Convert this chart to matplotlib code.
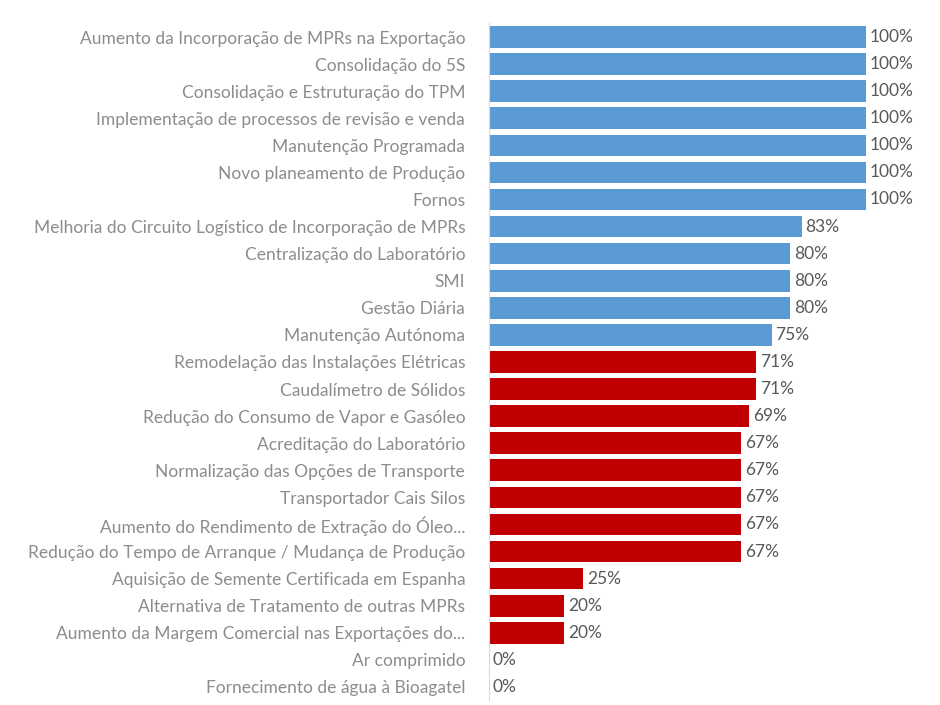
import matplotlib
matplotlib.use('Agg')
from matplotlib import pyplot as plt
import numpy as np

plt.rcParams['font.family'] = ['Lato', 'DejaVu Sans']

projects = [
    'Aumento da Incorporação de MPRs na Exportação',
    'Consolidação do 5S',
    'Consolidação e Estruturação do TPM',
    'Implementação de processos de revisão e venda',
    'Manutenção Programada',
    'Novo planeamento de Produção',
    'Fornos',
    'Melhoria do Circuito Logístico de Incorporação de MPRs',
    'Centralização do Laboratório',
    'SMI',
    'Gestão Diária',
    'Manutenção Autónoma',
    'Remodelação das Instalações Elétricas',
    'Caudalímetro de Sólidos',
    'Redução do Consumo de Vapor e Gasóleo',
    'Acreditação do Laboratório',
    'Normalização das Opções de Transporte',
    'Transportador Cais Silos',
    'Aumento do Rendimento de Extração do Óleo...',
    'Redução do Tempo de Arranque / Mudança de Produção',
    'Aquisição de Semente Certificada em Espanha',
    'Alternativa de Tratamento de outras MPRs',
    'Aumento da Margem Comercial nas Exportações do...',
    'Ar comprimido',
    'Fornecimento de água à Bioagatel',
]
completion = [100, 100, 100, 100, 100, 100, 100, 83, 80, 80, 80, 75,
              71, 71, 69, 67, 67, 67, 67, 67, 25, 20, 20, 0, 0]

colors = ['#5B9BD5' if v >= 75 else '#C00000' for v in completion]

fig = plt.figure(figsize=(9.4, 7.05), dpi=100)
ax = fig.add_axes([0.52, 0.0064, 0.401, 0.9603])

y = np.arange(len(projects))
ax.barh(y, completion, height=0.8, color=colors)
ax.set_ylim(len(projects) - 0.5, -0.5)
ax.set_xlim(0, 100)

for yi, v in zip(y, completion):
    ax.text(v + 1.0, yi, f'{v}%', va='center', ha='left', fontsize=12.5, color='#595959')

ax.set_yticks(y)
ax.set_yticklabels(projects, fontsize=12.5, color='#8c8c8c')
ax.tick_params(axis='y', length=0, pad=17)
ax.set_xticks([])
for s in ['top', 'right', 'bottom']:
    ax.spines[s].set_visible(False)
ax.spines['left'].set_color('#d9d9d9')

fig.savefig('out.png', dpi=100)
